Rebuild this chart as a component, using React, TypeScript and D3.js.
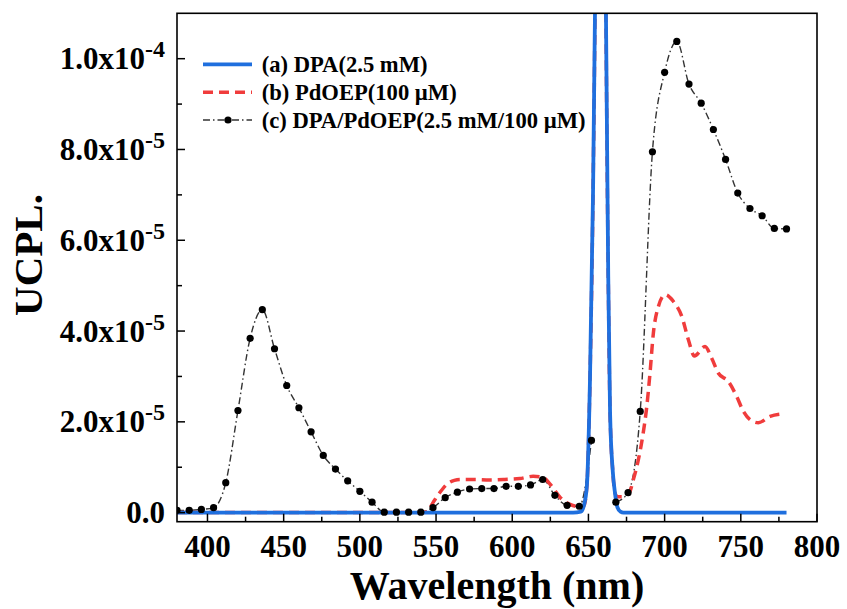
import React from "react";
import * as d3 from "d3";

// values in units of 1e-5
const UNIT = 1e-5;

// (c) DPA/PdOEP – sampled every 8 nm (660 nm lies far above the plot)
const cWavelength = [380,388,396,404,412,420,428,436,444,452,460,468,476,484,492,500,508,516,524,532,540,548,556,564,572,580,588,596,604,612,620,628,636,644,652,660,668,676,684,692,700,708,716,724,732,740,748,756,764,772,780];
const cValues = [0.05,0.05,0.07,0.11,0.66,2.25,3.84,4.47,3.61,2.80,2.31,1.78,1.26,0.96,0.70,0.47,0.23,0.01,0.01,0.01,0.01,0.11,0.33,0.45,0.52,0.53,0.53,0.58,0.58,0.61,0.73,0.38,0.16,0.14,1.59,30,0.23,0.44,2.23,7.95,9.70,10.38,9.44,9.02,8.44,7.78,7.04,6.70,6.54,6.26,6.25];

// (b) PdOEP
const bWavelength = [380,540,544,548,552,557,562,566,575,585,595,605,613.7,620.4,625,631.6,638,644.5,647,649,651,653,654.3,656,658,660,661.5,663,664.2,666,667.4,669,673,677,679.5,682.8,685.6,688.3,690.4,692.6,695.9,700.3,705.8,711.3,715.6,719.5,726.5,730.9,735.3,741.8,747.3,751.7,756,761.5,769.2,779.1];
const bValues = [0,0,0.02,0.22,0.42,0.62,0.71,0.73,0.73,0.72,0.73,0.75,0.80,0.77,0.62,0.33,0.18,0.13,0.15,0.6,2.9,7,11,20,26,20,11,5.2,2.2,0.9,0.44,0.35,0.35,0.45,0.73,1.17,1.68,2.34,3.07,3.95,4.54,4.80,4.65,4.32,3.81,3.45,3.66,3.40,3.07,2.89,2.56,2.23,2.05,1.98,2.12,2.18];

// (a) DPA
const aWavelength = [380,640,645,647,649,651,653,654.3,656,658,660,661.5,663,664.2,666,667.4,669,671,673,780];
const aValues = [0,0,0.02,0.15,0.6,2.9,7,11,20,26,20,11,5.2,2.2,0.9,0.44,0.12,0.02,0,0];

const xTicks = [400,450,500,550,600,650,700,750,800];
const xMinorTicks = [425,475,525,575,625,675,725,775];
const yTicks = [0,2,4,6,8,10];
const yMinorTicks = [1,3,5,7,9];

const legendLabels = ["(a) DPA(2.5 mM)", "(b) PdOEP(100 \u00b5M)", "(c) DPA/PdOEP(2.5 mM/100 \u00b5M)"];

const BLUE = "#1f6fde";
const RED = "#f03c3c";
const FONT = "'Liberation Serif', 'Times New Roman', serif";

const M = { left: 177, right: 817, top: 13.3, bottom: 521.7 };
const Y_MAX = 11;

function fmt(v: number): [string, string | null] {
  if (v === 0) return ["0.0", null];
  const real = v * UNIT;
  const e = Math.floor(Math.log10(real) + 1e-9);
  const mant = real / Math.pow(10, e);
  return [mant.toFixed(1) + "x10", String(e)];
}

export default function App() {
  const x = d3.scaleLinear().domain([380, 800]).range([M.left, M.right]);
  const y = d3.scaleLinear().domain([-0.2, Y_MAX]).range([M.bottom, M.top]);

  const toPts = (xs: number[], ys: number[]) => xs.map((w, i) => [w, ys[i]] as [number, number]);
  const line = d3
    .line<[number, number]>()
    .x((d) => x(d[0]))
    .y((d) => y(d[1]))
    .curve(d3.curveMonotoneX);
  const lineInRange = d3
    .line<[number, number]>()
    .defined((d) => d[1] <= Y_MAX)
    .x((d) => x(d[0]))
    .y((d) => y(d[1]))
    .curve(d3.curveMonotoneX);

  const aPts = toPts(aWavelength, aValues);
  const bPts = toPts(bWavelength, bValues);
  const cPts = toPts(cWavelength, cValues);

  const legendY = [64.3, 92.3, 120];

  return (
    <svg width={847} height={609} style={{ position: "absolute", left: 0, top: 0, background: "#fff" }} fontFamily={FONT}>
      <defs>
        <clipPath id="plot">
          <rect x={M.left} y={M.top} width={M.right - M.left} height={M.bottom - M.top} />
        </clipPath>
      </defs>
      <rect x={0} y={0} width={847} height={609} fill="#fff" />
      <g clipPath="url(#plot)">
        <path d={lineInRange(cPts) || ""} fill="none" stroke="#333" strokeWidth={1.4} strokeDasharray="7,3,1.5,3" />
        <path d={line(bPts) || ""} fill="none" stroke={RED} strokeWidth={3.5} strokeDasharray="10,6" />
        <path d={line(aPts) || ""} fill="none" stroke={BLUE} strokeWidth={3.8} />
        {cPts.map((d, i) => (
          <circle key={i} cx={x(d[0])} cy={y(d[1])} r={3.6} fill="#000" />
        ))}
      </g>
      {/* frame */}
      <rect x={M.left} y={M.top} width={M.right - M.left} height={M.bottom - M.top} fill="none" stroke="#000" strokeWidth={1.6} />
      {/* x ticks */}
      {xTicks.map((t) => (
        <g key={"xt" + t}>
          <line x1={x(t)} x2={x(t)} y1={M.bottom} y2={M.bottom - 8} stroke="#000" strokeWidth={1.5} />
          <text x={x(t)} y={556.5} textAnchor="middle" fontSize={31} fontWeight="bold">{t}</text>
        </g>
      ))}
      {xMinorTicks.map((t) => (
        <line key={"xm" + t} x1={x(t)} x2={x(t)} y1={M.bottom} y2={M.bottom - 5} stroke="#000" strokeWidth={1.5} />
      ))}
      {/* y ticks */}
      {yTicks.map((t) => {
        const [main, exp] = fmt(t);
        return (
          <g key={"yt" + t}>
            <line x1={M.left} x2={M.left + 8} y1={y(t)} y2={y(t)} stroke="#000" strokeWidth={1.5} />
            <text x={165} y={y(t) + 10.5} textAnchor="end" fontSize={31} fontWeight="bold">
              <tspan>{main}</tspan>
              {exp && (
                <tspan dy={-12} fontSize={24}>{exp}</tspan>
              )}
            </text>
          </g>
        );
      })}
      {yMinorTicks.map((t) => (
        <line key={"ym" + t} x1={M.left} x2={M.left + 5} y1={y(t)} y2={y(t)} stroke="#000" strokeWidth={1.5} />
      ))}
      {/* axis titles */}
      <text x={(M.left + M.right) / 2} y={598.5} textAnchor="middle" fontSize={40} fontWeight="bold">Wavelength (nm)</text>
      <text transform="translate(41.7,255) rotate(-90)" textAnchor="middle" fontSize={41} fontWeight="bold">UCPL.</text>
      {/* legend */}
      <line x1={203} x2={252} y1={legendY[0]} y2={legendY[0]} stroke={BLUE} strokeWidth={3.7} />
      <line x1={203} x2={252} y1={legendY[1]} y2={legendY[1]} stroke={RED} strokeWidth={3.6} strokeDasharray="10,6" />
      <line x1={203} x2={252} y1={legendY[2]} y2={legendY[2]} stroke="#333" strokeWidth={1.4} strokeDasharray="7,3,1.5,3" />
      <circle cx={228} cy={legendY[2]} r={3.6} fill="#000" />
      {legendLabels.map((l, i) => (
        <text key={l} x={261.7} y={legendY[i] + 7.6} fontSize={22.6} fontWeight="bold">{l}</text>
      ))}
    </svg>
  );
}
